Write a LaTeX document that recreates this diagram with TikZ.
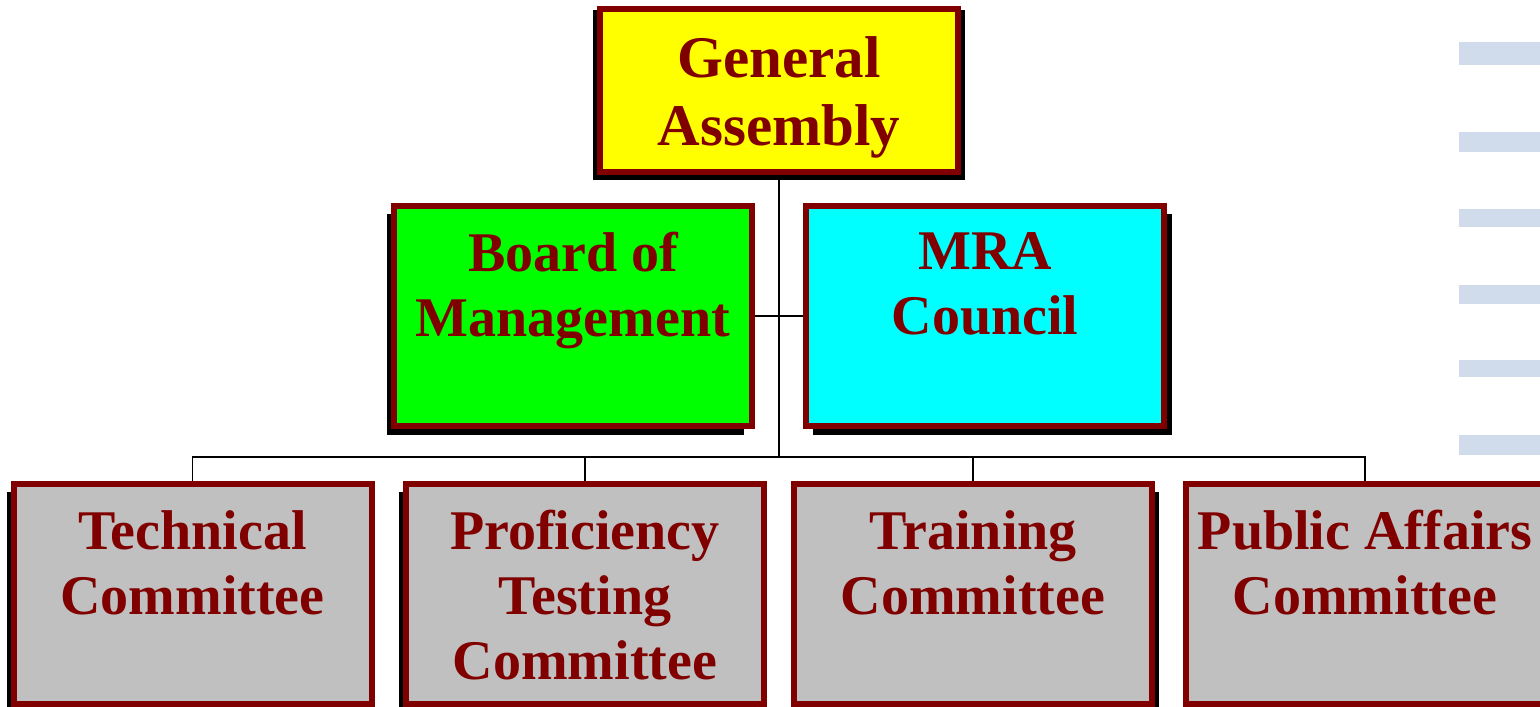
\documentclass[tikz,border=0pt]{standalone}
\usepackage{fontspec}
\setmainfont{Liberation Serif}
\usepackage{tikz}
\usetikzlibrary{calc}
\usetikzlibrary{positioning}
\usetikzlibrary{backgrounds}
\definecolor{maroon}{RGB}{128,0,0}
\definecolor{stripeblue}{RGB}{208,220,236}
\definecolor{boxgray}{RGB}{192,192,192}
\definecolor{gayellow}{RGB}{255,255,0}
\definecolor{bmgreen}{RGB}{0,255,0}
\definecolor{mracyan}{RGB}{0,255,255}
\tikzstyle{orgbox}=[draw=maroon,line width=6pt,minimum width=358pt,anchor=north,inner sep=0pt]
\tikzstyle{boxshadow}=[fill=black]
\tikzstyle{lbl}=[text=maroon,font=\fontsize{56}{65}\selectfont\bfseries,align=center,inner sep=0pt]
\tikzstyle{conn}=[line width=1.6pt,black]
\tikzstyle{stripe}=[fill=stripeblue]

\begin{document}
\begin{tikzpicture}[x=1pt,y=-1pt]
\useasboundingbox (0,0) rectangle (1540,707);
\clip (0,0) rectangle (1540,707);
%Assemblee generale
\node[orgbox,fill=gayellow,minimum height=163pt] (ga) at (779,6) {};
\node[lbl,font=\fontsize{59}{68}\selectfont\bfseries,below=30pt of ga.north] (ga-t) {General\\Assembly};
%niveau du milieu
\node[orgbox,fill=bmgreen,minimum height=220pt] (bm) at (573,203) {};
\node[lbl,below=29pt of bm.north] (bm-t) {Board of\\Management};
\node[orgbox,fill=mracyan,minimum height=220pt] (mra) at (985,203) {};
\node[lbl,below=29pt of mra.north] (mra-t) {MRA\\Council};
%comites
\node[orgbox,fill=boxgray,minimum height=220pt] (tc) at (192.5,481) {};
\node[lbl,below=29pt of tc.north] (tc-t) {Technical\\Committee};
\node[orgbox,fill=boxgray,minimum height=220pt] (ptc) at (585,481) {};
\node[lbl,below=29pt of ptc.north] (ptc-t) {Proficiency\\Testing\\Committee};
\node[orgbox,fill=boxgray,minimum height=220pt] (trc) at (973,481) {};
\node[lbl,below=29pt of trc.north] (trc-t) {Training\\Committee};
\node[orgbox,fill=boxgray,minimum height=220pt] (pac) at (1365,481) {};
\node[lbl,below=29pt of pac.north] (pac-t) {Public Affairs\\Committee};

\begin{scope}[on background layer]
	%bandes a droite
	\fill[stripe] (1459,42) rectangle (1540,65);
	\fill[stripe] (1459,132) rectangle (1540,152);
	\fill[stripe] (1459,209) rectangle (1540,227);
	\fill[stripe] (1459,285) rectangle (1540,304);
	\fill[stripe] (1459,360) rectangle (1540,377);
	\fill[stripe] (1459,435) rectangle (1540,455);
	%ombres
	\fill[boxshadow] ($(ga.north west)+(-4,4)$) rectangle ($(ga.south east)+(4,5)$);
	\fill[boxshadow] ($(bm.north west)+(-4,11)$) rectangle ($(bm.south east)+(-11,6)$);
	\fill[boxshadow] ($(mra.north west)+(10,11)$) rectangle ($(mra.south east)+(5,6)$);
	\fill[boxshadow] ($(tc.north west)+(-4,11)$) rectangle ($(tc.south east)+(-11,6)$);
	\fill[boxshadow] ($(ptc.north west)+(-4,11)$) rectangle ($(ptc.south east)+(-11,6)$);
	\fill[boxshadow] ($(trc.north west)+(10,11)$) rectangle ($(trc.south east)+(4,6)$);
	\fill[boxshadow] ($(pac.north west)+(10,11)$) rectangle ($(pac.south east)+(4,6)$);
	%liens
	\coordinate (hub) at (779,457);
	\draw[conn] (ga.south) -- (hub);
	\draw[conn] (bm.east) -- (mra.west);
	\draw[conn] (tc.north) |- (hub);
	\draw[conn] (ptc.north) |- (hub);
	\draw[conn] (trc.north) |- (hub);
	\draw[conn] (pac.north) |- (hub);
\end{scope}
\end{tikzpicture}
\end{document}
